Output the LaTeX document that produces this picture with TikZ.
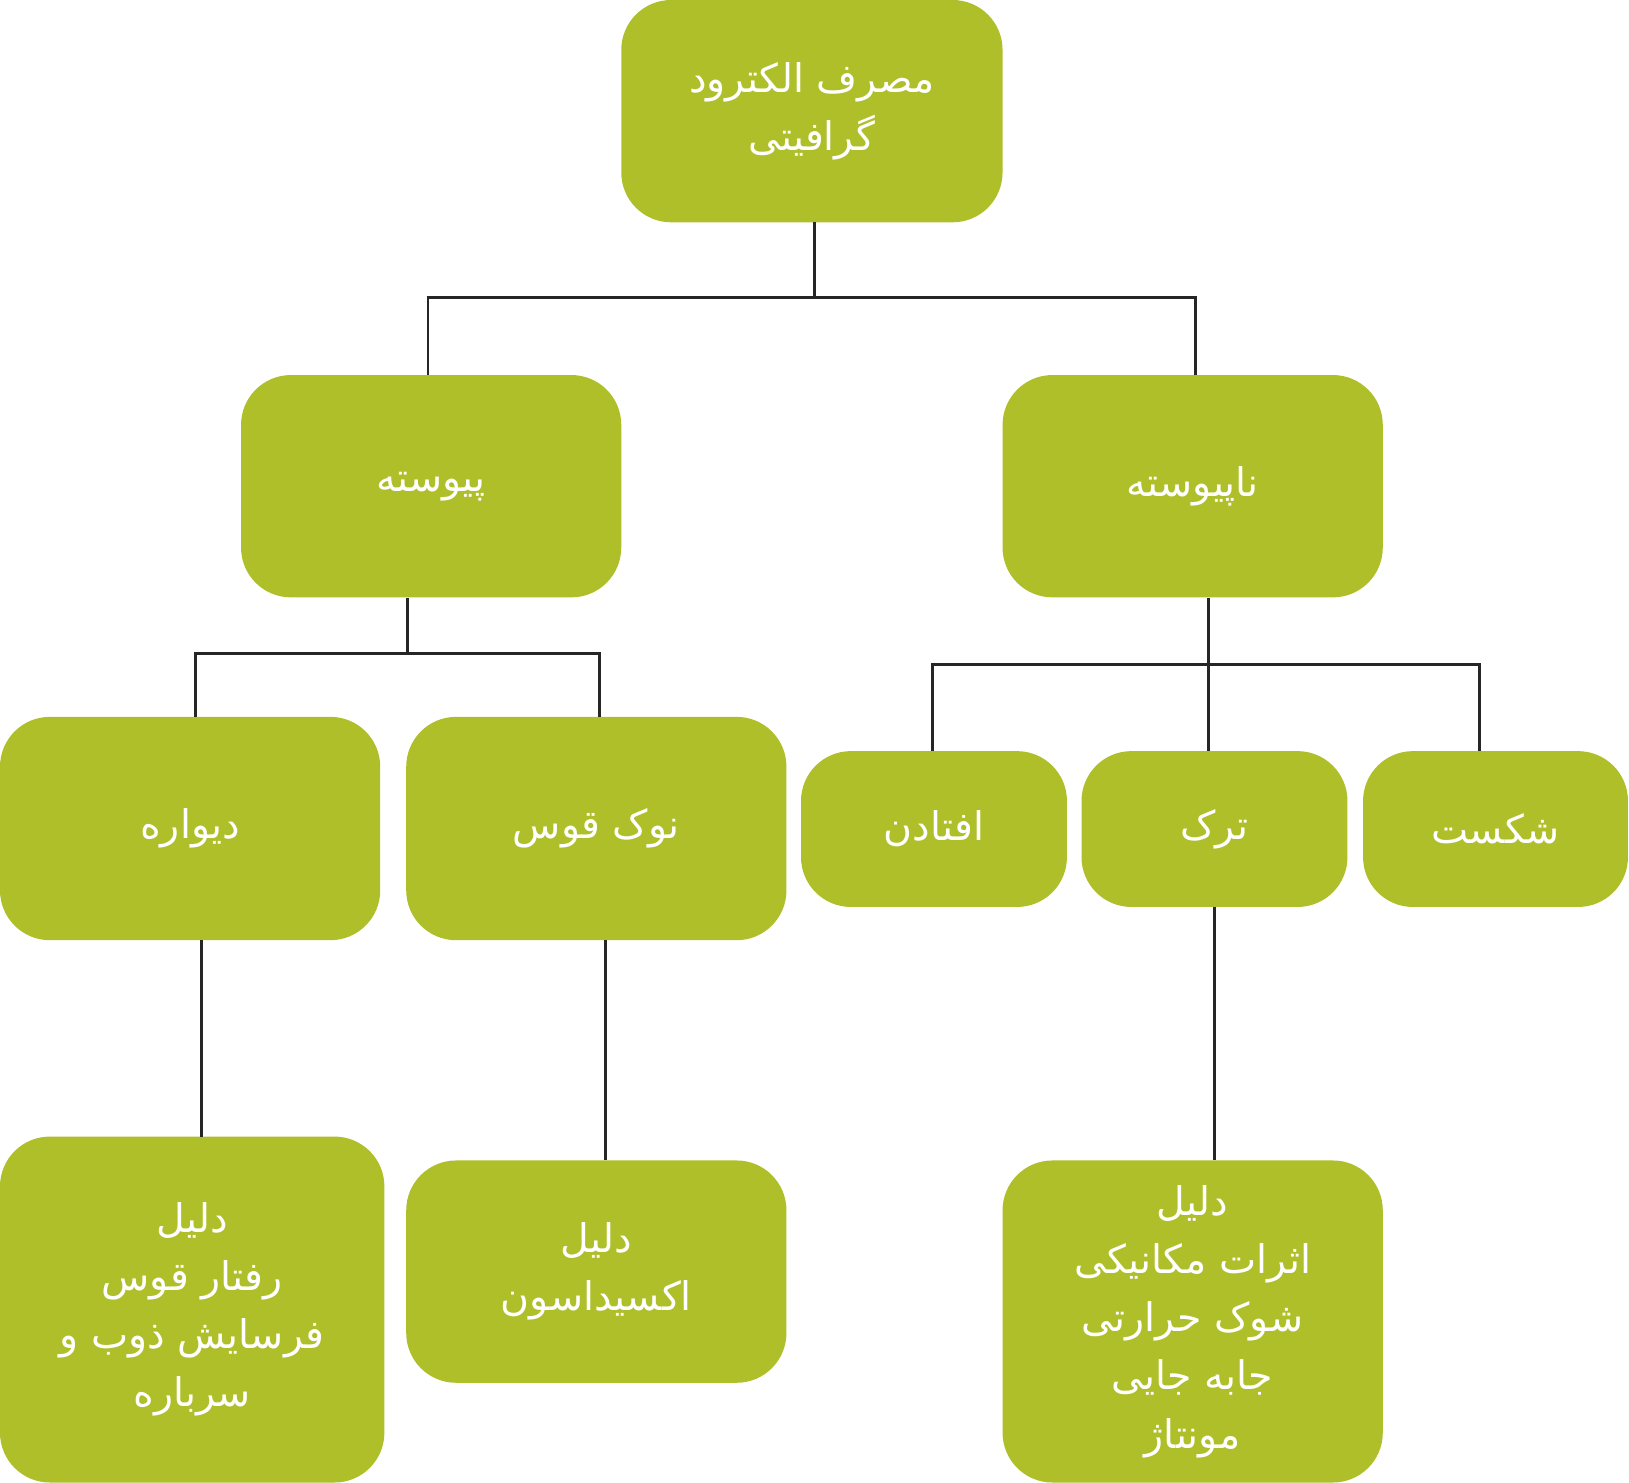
\documentclass[tikz,border=0pt]{standalone}
\usepackage{fontspec}
\newfontfamily\arabicfont[Script=Arabic]{DejaVu Sans}
\TeXXeTstate=1
\newcommand\fa[1]{{\arabicfont\beginR #1\endR}}
\definecolor{boxgreen}{HTML}{AFBF2A}
\tikzset{
 box/.style={fill=boxgreen,rounded corners=24pt,text=white,align=center,inner sep=0pt,font=\fontsize{19}{28}\selectfont},
 link/.style={draw=black!85,line width=1.4pt}
}
\begin{document}
\begin{tikzpicture}[x=0.5pt,y=-0.5pt]
\useasboundingbox (0,0) rectangle (1568,1427);
\node[box,minimum width=183.5pt,minimum height=107pt] (top) at (781.5,107) {\fa{مصرف الکترود}\\\fa{گرافیتی}};
\node[box,minimum width=183pt,minimum height=107pt] (pey) at (415,468) {\fa{پیوسته}};
\node[box,minimum width=183pt,minimum height=107pt] (napey) at (1148,468) {\fa{ناپیوسته}};
\node[box,minimum width=183pt,minimum height=107.5pt] (divar) at (183,797.5) {\fa{دیواره}};
\node[box,minimum width=183pt,minimum height=107.5pt] (nok) at (574,797.5) {\fa{نوک قوس}};
\node[box,minimum width=128pt,minimum height=75pt] (oft) at (899,798) {\fa{افتادن}};
\node[box,minimum width=128pt,minimum height=75pt] (tarak) at (1169,798) {\fa{ترک}};
\node[box,minimum width=127.5pt,minimum height=75pt] (shek) at (1439.5,798) {\fa{شکست}};
\node[box,minimum width=185pt,minimum height=166.5pt] (b1) at (185,1260.5) {\fa{دلیل}\\\fa{رفتار قوس}\\\fa{فرسایش ذوب و}\\\fa{سرباره}};
\node[box,minimum width=183pt,minimum height=107pt] (b2) at (574,1224) {\fa{دلیل}\\\fa{اکسیداسون}};
\node[box,minimum width=183pt,minimum height=155pt] (b3) at (1148,1272) {\fa{دلیل}\\\fa{اثرات مکانیکی}\\\fa{شوک حرارتی}\\\fa{جابه جایی}\\\fa{مونتاژ}};
\coordinate (j1) at (784,286);
\coordinate (j2) at (392,629);
\coordinate (j3) at (1163,640);
\draw[link] (784,214) -- (j1);
\draw[link] (j1) -| (412,361);
\draw[link] (j1) -| (1151,361);
\draw[link] (j2 |- pey.south) -- (j2);
\draw[link] (j2) -| (188,690);
\draw[link] (j2) -| (577,690);
\draw[link] (j3 |- napey.south) -- (j3);
\draw[link] (j3) -| (898,723);
\draw[link] (j3) -| (1424,723);
\draw[link] (j3) -- (j3 |- tarak.north);
\draw[link] (194,905) -- (194,1094);
\draw[link] (583,905) -- (583,1117);
\draw[link] (tarak.south) -- (tarak.south |- b3.north);
\end{tikzpicture}
\end{document}
